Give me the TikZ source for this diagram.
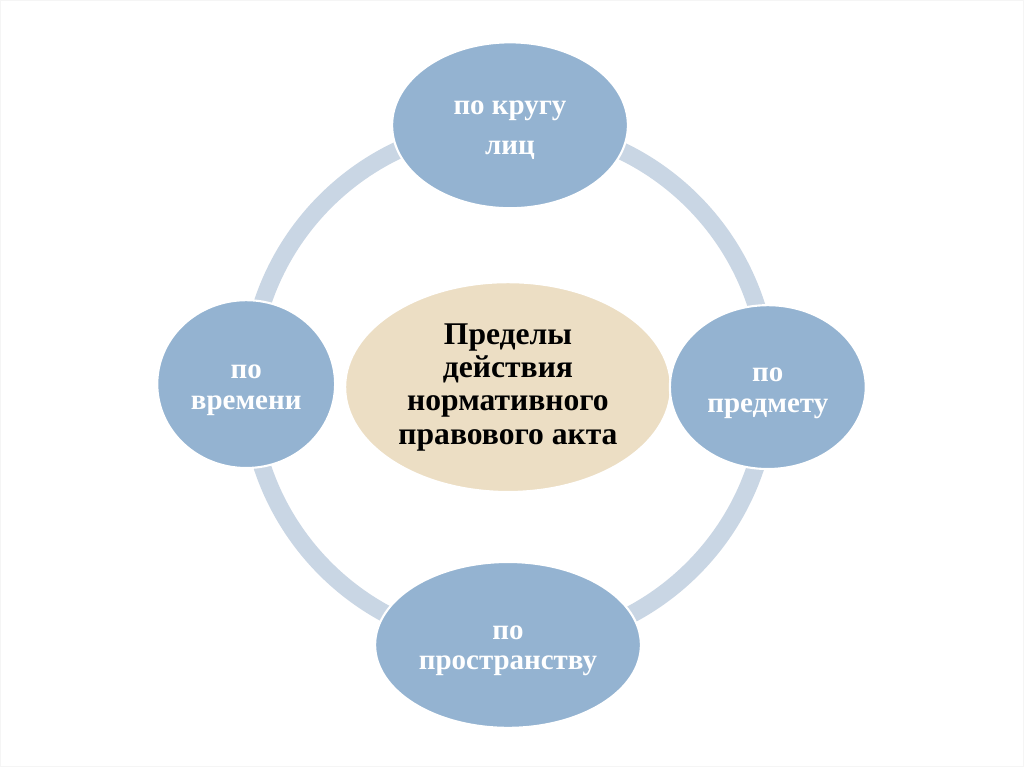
\documentclass[tikz,border=0pt]{standalone}
\usepackage{fontspec}
\setmainfont{Liberation Serif}
\usetikzlibrary{shapes.geometric}
\usepackage{xcolor}
\definecolor{limitblue}{RGB}{148,179,209}
\definecolor{ringblue}{RGB}{201,214,228}
\definecolor{coresand}{RGB}{236,222,196}

\begin{document}
\begin{tikzpicture}[
  x=0.02cm, y=-0.02cm,
  limit/.style={ellipse, draw=white, line width=1.2pt, fill=limitblue,
                inner sep=0pt, align=center, text=white, text height=32pt,
                font=\fontsize{16.5}{17.5}\selectfont\bfseries},
  core/.style={ellipse, draw=white, line width=1.2pt, fill=coresand,
               inner sep=0pt, align=center, text=black,
               font=\fontsize{18}{19}\selectfont\bfseries},
  ring/.style={line width=10pt, ringblue},
]
  \useasboundingbox[draw=gray!8, fill=white] (0,0) rectangle (1024,767);

  % --- Ring behind everything ---
  \coordinate (mid) at (509,385);
  \draw[ring] (mid) circle (5.2cm);

  % --- Central ellipse ---
  \node[core, minimum width=6.52cm, minimum height=4.2cm] (act) at (508,387)
    {Пределы\\действия\\нормативного\\правового акта};

  % --- Four limits around it ---
  \node[limit, minimum width=4.72cm, minimum height=3.32cm, text height=36pt,
        font=\fontsize{16.5}{22.7}\selectfont\bfseries] (persons) at (510,125)
    {по кругу\\лиц};
  \node[limit, minimum width=3.56cm, minimum height=3.36cm] (time) at (246,384)
    {по\\времени};
  \node[limit, minimum width=3.92cm, minimum height=3.28cm] (subject) at (768,387)
    {по\\предмету};
  \node[limit, minimum width=5.32cm, minimum height=3.32cm] (space) at (508,645)
    {по\\пространству};
\end{tikzpicture}
\end{document}
